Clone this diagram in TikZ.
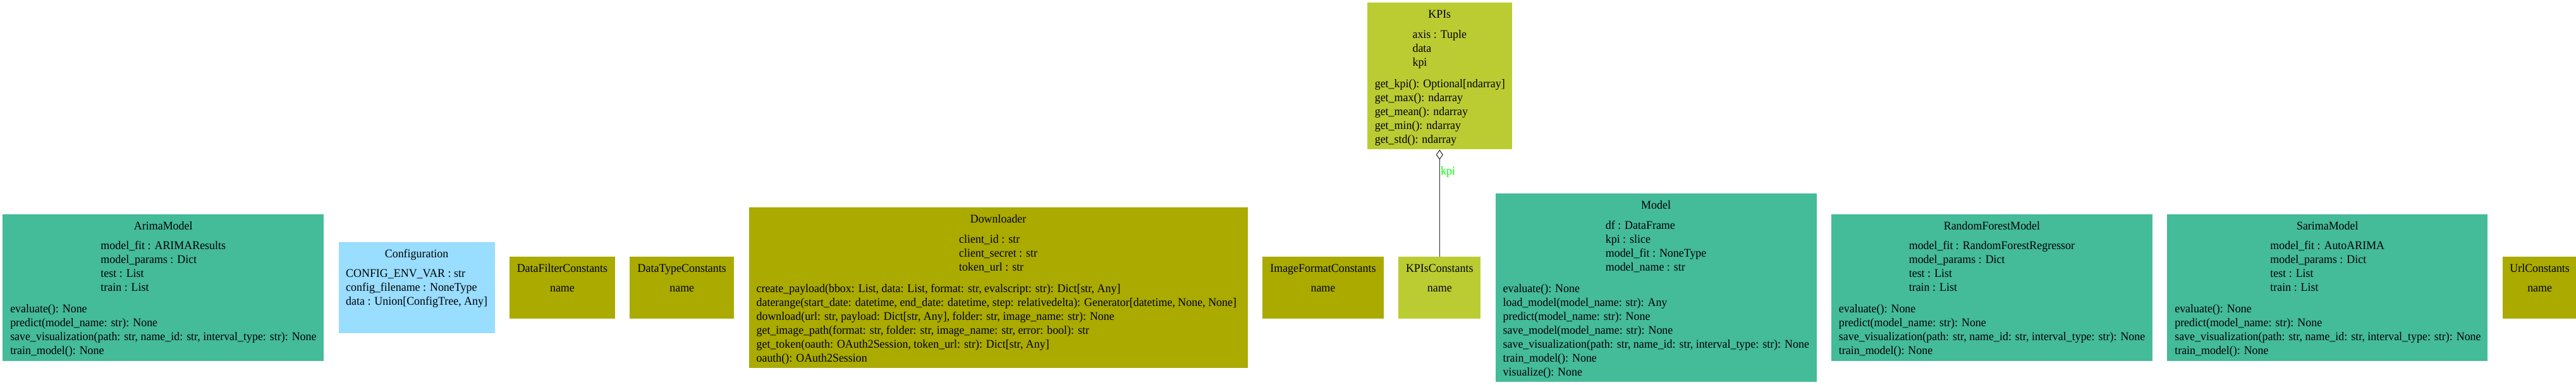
\documentclass[tikz,border=0pt]{standalone}
\usepackage{fontspec}
\setmainfont[FakeStretch=0.96]{Liberation Serif}
\usetikzlibrary{arrows.meta}
\usetikzlibrary{positioning}
\definecolor{modelgreen}{HTML}{44BB99}
\definecolor{configblue}{HTML}{99DDFF}
\definecolor{constolive}{HTML}{AAAA00}
\definecolor{kpipear}{HTML}{BBCC33}
\definecolor{labelgreen}{HTML}{00FF00}
\newcommand\classtext[5]{%
  \begin{minipage}[t][#2][t]{#1}
  \lineskip=0pt
  \vspace*{6.8pt}
  {\centering\strut #3\par}
  \vspace{7pt}
  {\centering\begin{tabular}[t]{@{}l@{}}#4\end{tabular}\par}
  \vspace{9pt}
  \hspace*{9pt}\begin{tabular}[t]{@{}l@{}}#5\end{tabular}\par
  \end{minipage}}
\newcommand\umlclass[7][]{%
  \node[classbox,#1] (#2) {\classtext{#3}{#4}{#5}{#6}{#7}};
}

\begin{document}
\begin{tikzpicture}[
node distance= 17.1pt,
classbox/.style={
  rectangle,
  inner sep=0pt,
  font=\fontsize{14pt}{16.5pt}\selectfont},
aggregation/.style={
  -{Diamond[open,length=12pt,width=8.25pt]},
  line width=0.75pt,
  black!85}
]
\path[use as bounding box,fill=white] (0,0) rectangle (3056.25pt,-456.75pt);
\umlclass[fill=modelgreen,anchor=west,at={(3pt,-341.25pt)}]{arima}{381pt}{174pt}{ArimaModel}
  {model\_fit : ARIMAResults\\model\_params : Dict\\test : List\\train : List}
  {evaluate(): None\\predict(model\_name: str): None\\save\_visualization(path: str, name\_id: str, interval\_type: str): None\\train\_model(): None}
\umlclass[fill=configblue,right=of arima]{config}{185.25pt}{108pt}{Configuration}
  {CONFIG\_ENV\_VAR : str\\config\_filename : NoneType\\data : Union[ConfigTree, Any]}
  {}
\umlclass[fill=constolive,right=of config]{datafilter}{125.25pt}{73.5pt}{DataFilterConstants}
  {name}{}
\umlclass[fill=constolive,right=of datafilter]{datatype}{123.75pt}{73.5pt}{DataTypeConstants}
  {name}{}
\umlclass[fill=constolive,right=of datatype]{downloader}{591.75pt}{189.75pt}{Downloader}
  {client\_id : str\\client\_secret : str\\token\_url : str}
  {create\_payload(bbox: List, data: List, format: str, evalscript: str): Dict[str, Any]\\daterange(start\_date: datetime, end\_date: datetime, step: relativedelta): Generator[datetime, None, None]\\download(url: str, payload: Dict[str, Any], folder: str, image\_name: str): None\\get\_image\_path(format: str, folder: str, image\_name: str, error: bool): str\\get\_token(oauth: OAuth2Session, token\_url: str): Dict[str, Any]\\oauth(): OAuth2Session}
\umlclass[fill=constolive,right=of downloader]{imageformat}{144pt}{73.5pt}{ImageFormatConstants}
  {name}{}
\umlclass[fill=kpipear,right=of imageformat]{kpiconst}{97.5pt}{73.5pt}{KPIsConstants}
  {name}{}
\umlclass[fill=modelgreen,right=of kpiconst]{model}{381pt}{222.75pt}{Model}
  {df : DataFrame\\kpi : slice\\model\_fit : NoneType\\model\_name : str}
  {evaluate(): None\\load\_model(model\_name: str): Any\\predict(model\_name: str): None\\save\_model(model\_name: str): None\\save\_visualization(path: str, name\_id: str, interval\_type: str): None\\train\_model(): None\\visualize(): None}
\umlclass[fill=modelgreen,right=of model]{randomforest}{381pt}{174pt}{RandomForestModel}
  {model\_fit : RandomForestRegressor\\model\_params : Dict\\test : List\\train : List}
  {evaluate(): None\\predict(model\_name: str): None\\save\_visualization(path: str, name\_id: str, interval\_type: str): None\\train\_model(): None}
\umlclass[fill=modelgreen,right=of randomforest]{sarima}{380.25pt}{174pt}{SarimaModel}
  {model\_fit : AutoARIMA\\model\_params : Dict\\test : List\\train : List}
  {evaluate(): None\\predict(model\_name: str): None\\save\_visualization(path: str, name\_id: str, interval\_type: str): None\\train\_model(): None}
\umlclass[fill=constolive,right=of sarima]{url}{88.5pt}{73.5pt}{UrlConstants}
  {name}{}
\umlclass[fill=kpipear,above=126.75pt of kpiconst]{kpis}{171.75pt}{174pt}{KPIs}
  {axis : Tuple\\data\\kpi}
  {get\_kpi(): Optional[ndarray]\\get\_max(): ndarray\\get\_mean(): ndarray\\get\_min(): ndarray\\get\_std(): ndarray}
\draw [aggregation] (kpiconst) to [] node [pos=0.79, right, inner sep=1pt, text=labelgreen, font=\fontsize{14pt}{16.5pt}\selectfont]{kpi} (kpis);
\end{tikzpicture}
\end{document}
